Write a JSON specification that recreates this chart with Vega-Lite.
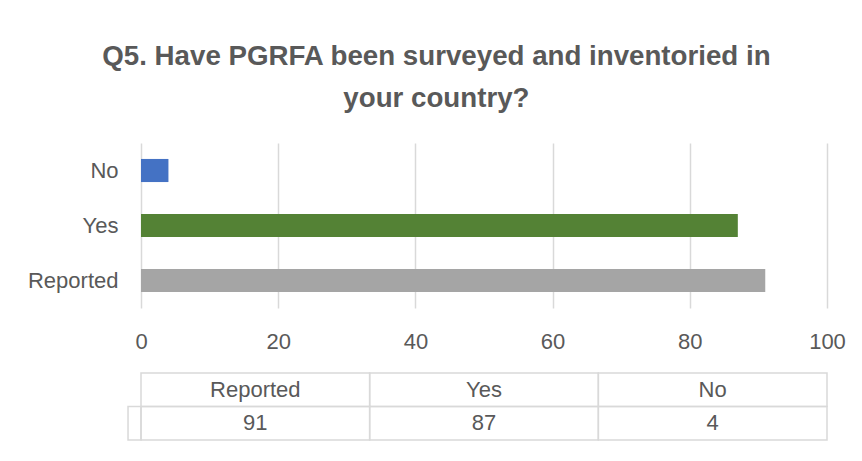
{
  "$schema": "https://vega.github.io/schema/vega-lite/v6.json",
  "padding": {"left": 27, "top": 43, "right": 16, "bottom": 20},
  "title": {
    "text": ["Q5. Have PGRFA been surveyed and inventoried in", "your country?"],
    "fontSize": 27.7, "font": "Liberation Sans", "fontWeight": "bold", "color": "#595959",
    "anchor": "middle", "frame": "bounds", "lineHeight": 42, "offset": 30
  },
  "datasets": {
    "q5": [
      {"cat": "Reported", "value": 91},
      {"cat": "Yes", "value": 87},
      {"cat": "No", "value": 4}
    ]
  },
  "data": {"name": "q5"},
  "spacing": 20,
  "vconcat": [
    {
      "width": 686, "height": 165,
      "mark": {"type": "bar"},
      "encoding": {
        "y": {
          "field": "cat", "type": "nominal", "sort": ["No", "Yes", "Reported"],
          "scale": {"paddingInner": 0.58, "paddingOuter": 0.29},
          "axis": {"title": null, "ticks": false, "domain": false, "grid": false, "labelPadding": 23,
                   "labelFontSize": 22, "labelColor": "#595959", "labelFont": "Liberation Sans"}
        },
        "x": {
          "field": "value", "type": "quantitative", "scale": {"domain": [0, 100]},
          "axis": {"title": null, "values": [0, 20, 40, 60, 80, 100], "ticks": false, "domain": false,
                   "grid": true, "gridColor": "#d9d9d9", "gridWidth": 1.5, "labelPadding": 23, "labelFlush": false,
                   "labelFontSize": 22, "labelColor": "#595959", "labelFont": "Liberation Sans"}
        },
        "color": {
          "field": "cat", "type": "nominal",
          "scale": {"domain": ["Reported", "Yes", "No"], "range": ["#A5A5A5", "#548235", "#4472C4"]},
          "legend": null
        }
      }
    },
    {
      "width": 686, "height": 67,
      "encoding": {
        "x": {"field": "cat", "type": "nominal", "sort": ["Reported", "Yes", "No"],
              "scale": {"paddingInner": 0, "paddingOuter": 0}, "axis": null}
      },
      "layer": [
        {
          "mark": {"type": "rect", "fill": "transparent", "stroke": "#d9d9d9", "strokeWidth": 1.5},
          "encoding": {"y": {"datum": "header", "type": "nominal",
                             "scale": {"domain": ["header", "value"], "paddingInner": 0, "paddingOuter": 0}, "axis": null}}
        },
        {
          "mark": {"type": "rect", "fill": "transparent", "stroke": "#d9d9d9", "strokeWidth": 1.5},
          "encoding": {"y": {"datum": "value", "type": "nominal"}}
        },
        {
          "transform": [{"filter": "datum.cat === 'Reported'"}],
          "mark": {"type": "rect", "fill": "transparent", "stroke": "#d9d9d9", "strokeWidth": 1.5, "width": 13, "xOffset": -120.8},
          "encoding": {
            "y": {"datum": "value", "type": "nominal"}
          }
        },
        {
          "mark": {"type": "text", "fontSize": 22, "color": "#595959", "font": "Liberation Sans"},
          "encoding": {"y": {"datum": "header", "type": "nominal"}, "text": {"field": "cat"}}
        },
        {
          "mark": {"type": "text", "fontSize": 22, "color": "#595959", "font": "Liberation Sans"},
          "encoding": {"y": {"datum": "value", "type": "nominal"}, "text": {"field": "value"}}
        }
      ]
    }
  ],
  "config": {"view": {"stroke": null}, "font": "Liberation Sans"}
}
